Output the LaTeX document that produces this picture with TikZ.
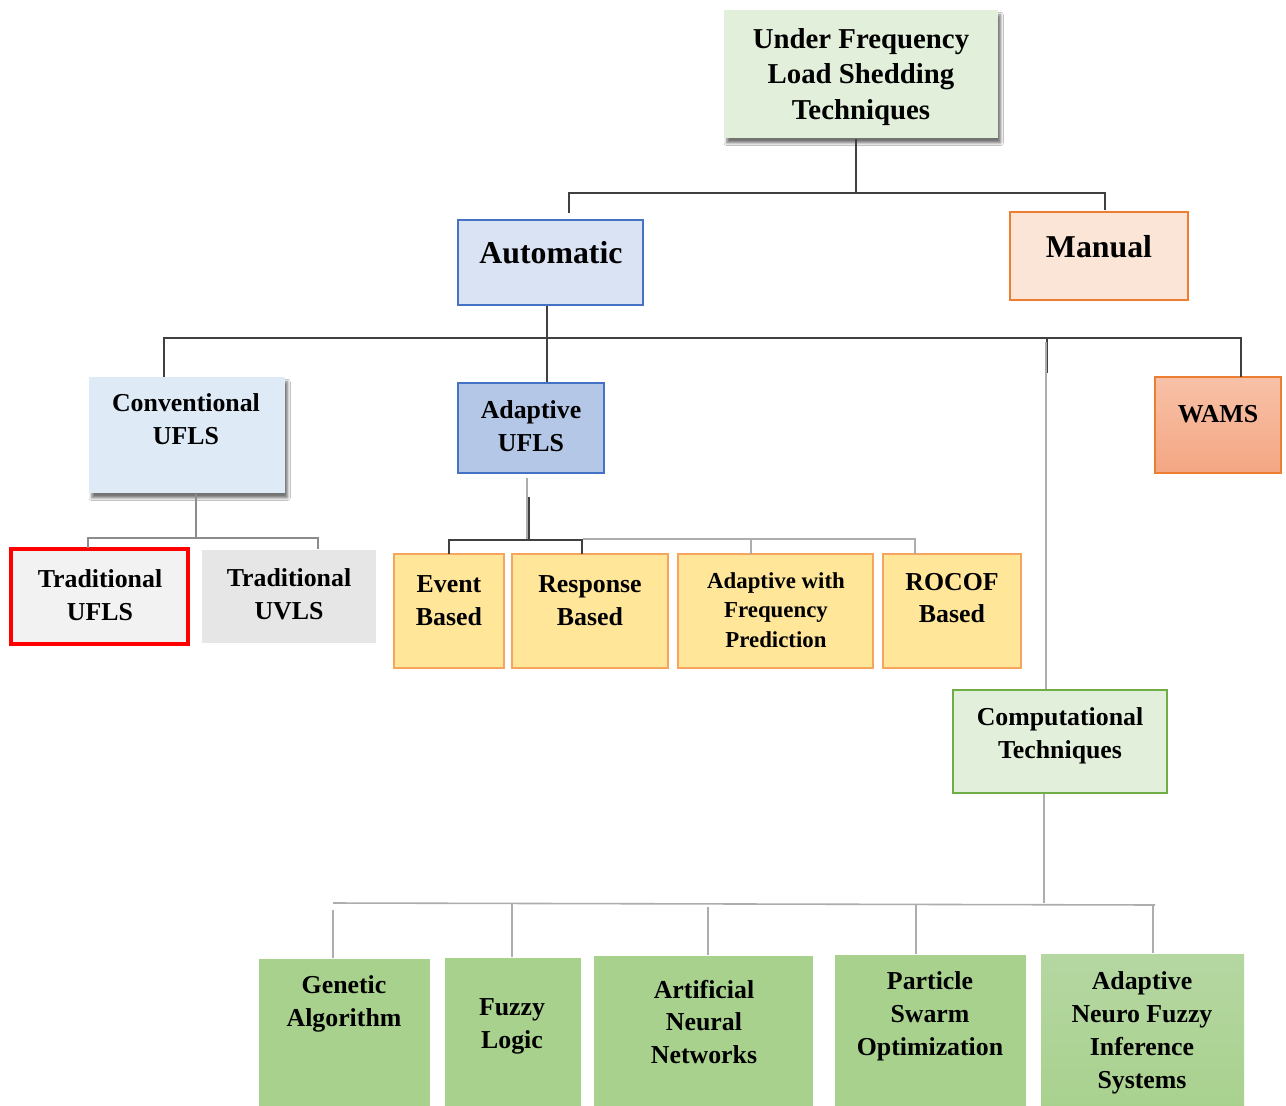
\documentclass[tikz,border=0pt]{standalone}
\usepackage{fontspec}
\setmainfont{Liberation Serif}
\usetikzlibrary{fit,shadows.blur}

\definecolor{cTop}{HTML}{E2EFDA}
\definecolor{cAuto}{HTML}{DAE3F3}
\definecolor{cBlue}{HTML}{4472C4}
\definecolor{cManual}{HTML}{FBE5D6}
\definecolor{cOrange}{HTML}{ED7D31}
\definecolor{cConv}{HTML}{DEEBF7}
\definecolor{cAdapt}{HTML}{B4C7E7}
\definecolor{cWamsTop}{HTML}{F8C1A7}
\definecolor{cWamsBot}{HTML}{F4A683}
\definecolor{cTrad}{HTML}{F2F2F2}
\definecolor{cUvls}{HTML}{E7E6E6}
\definecolor{cYel}{HTML}{FFE699}
\definecolor{cYelB}{HTML}{F5A55E}
\definecolor{cComp}{HTML}{E2EFDA}
\definecolor{cGreenB}{HTML}{70AD47}
\definecolor{cGreen}{HTML}{A9D18E}
\definecolor{cAnfisTop}{HTML}{B5D7A2}
\definecolor{cLineDark}{HTML}{404040}
\definecolor{cLineMid}{HTML}{8C8C8C}
\definecolor{cLineGray}{HTML}{ADADAD}

\begin{document}
\begin{tikzpicture}[x=0.02cm,y=-0.02cm,
  box/.style={inner sep=0pt, line width=0.8pt},
  lbl/.style={font=\bfseries\fontsize{14.7}{18.7}\selectfont, align=center, inner sep=0pt},
  lbltitle/.style={font=\bfseries\fontsize{16.4}{20.4}\selectfont, align=center, inner sep=0pt},
  lblbig/.style={font=\bfseries\fontsize{18.1}{22}\selectfont, align=center, inner sep=0pt},
  lblsmall/.style={font=\bfseries\fontsize{13}{16.7}\selectfont, align=center, inner sep=0pt},
  bus/.style={draw=cLineDark, line width=0.6pt},
  busm/.style={draw=cLineMid, line width=0.8pt},
  busg/.style={draw=cLineGray, line width=0.9pt},
  soft/.style={blur shadow={shadow xshift=1.5pt, shadow yshift=-2.8pt,
      shadow blur radius=1.5pt, shadow opacity=55}}
]
\useasboundingbox[fill=white] (0,0) rectangle (1286,1106);

% ---------- boxes ----------
\node[box, fill=cTop, soft, fit={(724,10)(998,138)}] (top) {};
\node[box, draw=cBlue, fill=cAuto, fit={(458,220)(643,305)}] (auto) {};
\node[box, draw=cOrange, fill=cManual, fit={(1010,212)(1188,300)}] (manual) {};
\node[box, fill=cConv, soft, fit={(89,377)(285,493)}] (conv) {};
\node[box, draw=cBlue, fill=cAdapt, fit={(458,383)(604,473)}] (adapt) {};
\node[box, draw=cOrange, top color=cWamsTop, bottom color=cWamsBot, fit={(1155,377)(1281,473)}] (wams) {};
\node[box, draw=red, line width=2.8pt, fill=cTrad, fit={(11,549)(188,644)}] (tufls) {};
\node[box, fill=cUvls, fit={(202,550)(376,643)}] (tuvls) {};
\node[box, draw=cYelB, fill=cYel, fit={(394,554)(504,668)}] (event) {};
\node[box, draw=cYelB, fill=cYel, fit={(512,554)(668,668)}] (resp) {};
\node[box, draw=cYelB, fill=cYel, fit={(678,554)(873,668)}] (awfp) {};
\node[box, draw=cYelB, fill=cYel, fit={(883,554)(1021,668)}] (rocof) {};
\node[box, draw=cGreenB, fill=cComp, fit={(953,690)(1167,793)}] (comp) {};
\node[box, fill=cGreen, fit={(259,959)(430,1106)}] (ga) {};
\node[box, fill=cGreen, fit={(445,958)(581,1106)}] (fl) {};
\node[box, fill=cGreen, fit={(594,956)(813,1106)}] (ann) {};
\node[box, fill=cGreen, fit={(835,955)(1026,1106)}] (pso) {};
\node[box, top color=cAnfisTop, bottom color=cGreen, fit={(1041,954)(1244,1106)}] (anfis) {};

% ---------- labels ----------
\node[lbltitle] (tTop) at (861,77) {Under Frequency\\Load Shedding\\Techniques};
\node[lblbig] (tAuto) at (551,253) {Automatic};
\node[lblbig] (tManual) at (1099,247) {Manual};
\node[lbl] (tConv) at (186,419) {Conventional\\UFLS};
\node[lbl] (tAdapt) at (531,426) {Adaptive\\UFLS};
\node[lbl] (tWams) at (1218,414) {WAMS};
\node[lbl] (tTufls) at (100,595) {Traditional\\UFLS};
\node[lbl] (tTuvls) at (289,594) {Traditional\\UVLS};
\node[lbl] (tEvent) at (449,601) {Event\\Based};
\node[lbl] (tResp) at (590,601) {Response\\Based};
\node[lblsmall] (tAwfp) at (776,610) {Adaptive with\\Frequency\\Prediction};
\node[lbl] (tRocof) at (952,598) {ROCOF\\Based};
\node[lbl] (tComp) at (1060,736) {Computational\\Techniques};
\node[lbl] (tGa) at (344,1004) {Genetic\\Algorithm};
\node[lbl] (tFl) at (512,1026) {Fuzzy\\Logic};
\node[lbl] (tAnn) at (704,1022) {Artificial\\Neural\\Networks};
\node[lbl] (tPso) at (930,1016) {Particle\\Swarm\\Optimization};
\node[lbl] (tAnfis) at (1142,1033) {Adaptive\\Neuro Fuzzy\\Inference\\Systems};

% ---------- connectors ----------
% root
\coordinate (busA) at (856,193);
\coordinate (autoIn) at (569,213);
\coordinate (manIn) at (1105,210);
\draw[bus] (top.south -| busA) -- (busA);
\draw[bus] (autoIn) |- (busA) -| (manIn);

% automatic
\coordinate (busB) at (547,338);
\coordinate (convIn) at (164,377);
\coordinate (wamsIn) at (1241,377);
\draw[bus] (auto.south -| busB) -- (busB);
\draw[bus] (convIn) |- (busB) -| (wamsIn);
\draw[bus] (busB) -- (adapt.north -| busB);
\coordinate (busC) at (1047,338);
\draw[bus] (busC) -- ++(0,35);
\coordinate (compIn) at (1046,342);
\draw[busg] (compIn) -- (comp.north -| compIn);

% conventional
\coordinate (busD) at (196,538);
\coordinate (tuIn) at (88,548);
\coordinate (tvIn) at (318,549);
\draw[busm] (conv.south -| busD) -- (busD);
\draw[busm] (tuIn) |- (busD) -| (tvIn);

% adaptive
\coordinate (adOut) at (527,478);
\coordinate (busE) at (529,540);
\coordinate (evIn) at (449,554);
\coordinate (reIn) at (582,554);
\draw[busg] (adOut) -- (adOut |- busE);
\draw[bus] (busE) -- ++(0,-43);
\draw[bus] (evIn) |- (busE) -| (reIn);
\coordinate (busF) at (583,539);
\coordinate (awIn) at (751,554);
\coordinate (roIn) at (915,554);
\draw[busg] (busF) -| (roIn);
\draw[busg] (awIn) -- (awIn |- busF);

% computational
\coordinate (busG) at (1044,903);
\coordinate (busGL) at (333,903);
\coordinate (busGR) at (1155,905);
\coordinate (gaIn) at (333,910);
\coordinate (flIn) at (512,904);
\coordinate (annIn) at (708,907);
\coordinate (psoIn) at (916,905);
\coordinate (anfIn) at (1153,905);
\draw[busg] (comp.south -| busG) -- (busG);
\draw[busg] (busGL) -- (busGR);
\draw[busg] (gaIn) -- (ga.north -| gaIn);
\draw[busg] (flIn) -- (fl.north -| flIn);
\draw[busg] (annIn) -- (ann.north -| annIn);
\draw[busg] (psoIn) -- (pso.north -| psoIn);
\draw[busg] (anfIn) -- (anfis.north -| anfIn);
\end{tikzpicture}
\end{document}
